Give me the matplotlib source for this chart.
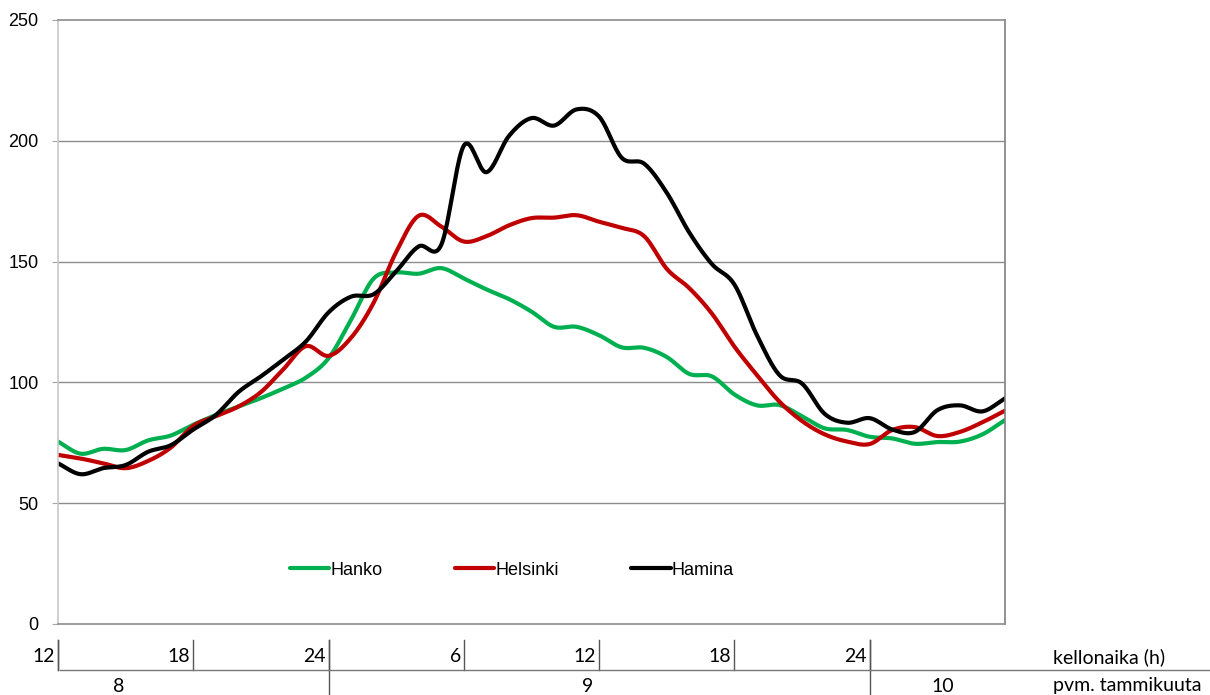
import numpy as np
import matplotlib
matplotlib.use('Agg')
import matplotlib.pyplot as plt
from matplotlib import transforms

# hourly values, 8.1. klo 12 -> 10.1. klo 6
hours = list(range(12, 55))

hanko = [75.5, 70.5, 72.5, 72, 76, 78, 82.5, 86.5, 90, 93.5, 97.5, 102, 110,
         126, 143, 145.5, 145, 147.3, 143, 138.5, 134.5, 129.3, 123, 123, 119.5,
         114.5, 114.3, 110.5, 103.5, 102.5, 95, 90.5, 90.6, 86, 81, 80.3, 77.5,
         76.8, 74.6, 75.3, 75.5, 78.5, 84.4]

helsinki = [70, 68.5, 66.5, 64.5, 67.5, 73, 82, 86, 90, 96, 105.5, 115, 111,
            118.5, 133, 154, 169, 164.5, 158.3, 160.5, 165, 168, 168.2, 169.2,
            166.5, 164, 160.5, 147, 139, 128.5, 114.8, 103, 92, 84, 78.5, 75.5,
            74.5, 80.3, 81.5, 77.8, 79.5, 83.5, 88.3]

hamina = [66.5, 62, 64.5, 65.8, 71.3, 74, 80.5, 86.5, 96, 102.5, 109.5, 117,
          129, 135.5, 136.5, 146, 156.3, 157, 198, 187, 202, 209.4, 206.3, 213,
          210, 193, 190.5, 178.5, 162, 149, 140.5, 119.5, 103, 99.5, 87, 83.3,
          85.2, 80.5, 79.5, 88.5, 90.5, 88, 93.4]

hour_ticks = [12, 18, 24, 30, 36, 42, 48]
hour_labels = ['12', '18', '24', '6', '12', '18', '24']
day_bounds = [24, 48]
day_labels = ['8', '9', '10']
day_label_pos = [14.7, 35.5, 51.25]


def smooth(x, y, n=20):
    # Catmull-Rom spline, like Excel's smoothed line
    x = np.asarray(x, float)
    y = np.asarray(y, float)
    yp = np.concatenate([[2 * y[0] - y[1]], y, [2 * y[-1] - y[-2]]])
    xs, ys = [], []
    t = np.linspace(0, 1, n, endpoint=False)
    for i in range(len(x) - 1):
        p0, p1, p2, p3 = yp[i], yp[i + 1], yp[i + 2], yp[i + 3]
        seg = 0.5 * ((2 * p1) + (-p0 + p2) * t + (2 * p0 - 5 * p1 + 4 * p2 - p3) * t ** 2
                     + (-p0 + 3 * p1 - 3 * p2 + p3) * t ** 3)
        xs.append(x[i] + (x[i + 1] - x[i]) * t)
        ys.append(seg)
    xs.append([x[-1]])
    ys.append([y[-1]])
    return np.concatenate(xs), np.concatenate(ys)


plt.rcParams['font.family'] = ['Liberation Sans', 'DejaVu Sans']

fig = plt.figure(figsize=(12.1, 6.95), dpi=100)
ax = fig.add_axes([58 / 1210, 71 / 695, 947 / 1210, 604 / 695])

for vals, name, col in [(hanko, 'Hanko', '#00B050'),
                        (helsinki, 'Helsinki', '#C00000'),
                        (hamina, 'Hamina', '#000000')]:
    sx, sy = smooth(hours, vals)
    ax.plot(sx, sy, color=col, lw=3, label=name, solid_capstyle='round')

ax.set_xlim(12, 54)
ax.set_ylim(0, 250)
ax.set_yticks([0, 50, 100, 150, 200, 250])
ax.set_xticks([])
ax.tick_params(axis='y', labelsize=13, length=4, color='#a6a6a6', pad=10)
for y in [50, 100, 150, 200]:
    ax.axhline(y, color='#8c8c8c', lw=1, zorder=0)

ax.spines['left'].set_color('#c8c8c8')
ax.spines['top'].set_color('#8c8c8c')
ax.spines['right'].set_color('#7f7f7f')
ax.spines['bottom'].set_color('#8c8c8c')
for s in ax.spines.values():
    s.set_linewidth(1.2)

ax.legend(loc='center', bbox_to_anchor=(0.479, 0.0894), ncol=3, frameon=False,
          fontsize=13, handlelength=2.2, handletextpad=0.05, columnspacing=4.0)

# bottom category axis: hours and days
trans = transforms.blended_transform_factory(ax.transData, fig.transFigure)
lbl_trans = transforms.offset_copy(trans, fig=fig, x=-3, y=0, units='dots')
y_top = 1 - 640 / 695
y_mid = 1 - 670 / 695
y_hour = 1 - 657 / 695
y_day = 1 - 686 / 695

for h, lab in zip(hour_ticks, hour_labels):
    ax.plot([h, h], [y_top, y_mid], transform=trans, color='#555555', lw=1, clip_on=False)
    ax.text(h, y_hour, lab, transform=lbl_trans, ha='right', va='center',
            fontsize=14, family=['Lato', 'DejaVu Sans'])
for h in day_bounds:
    ax.plot([h, h], [y_top, 0], transform=trans, color='#555555', lw=1, clip_on=False)
ax.plot([12, 12], [y_top, y_mid], transform=trans, color='#555555', lw=1, clip_on=False)
fig.add_artist(plt.Line2D([60 / 1210, 1.0], [y_mid, y_mid], color='#777777', lw=1))

for p, lab in zip(day_label_pos, day_labels):
    ax.text(p, y_day, lab, transform=trans, ha='center', va='center',
            fontsize=14, family=['Lato', 'DejaVu Sans'])

fig.text(1053 / 1210, y_hour, 'kellonaika (h)', ha='left', va='center',
         fontsize=14, family=['Lato', 'DejaVu Sans'])
fig.text(1053 / 1210, y_day, 'pvm. tammikuuta', ha='left', va='center',
         fontsize=14, family=['Lato', 'DejaVu Sans'])

fig.savefig('out.png', dpi=100)
